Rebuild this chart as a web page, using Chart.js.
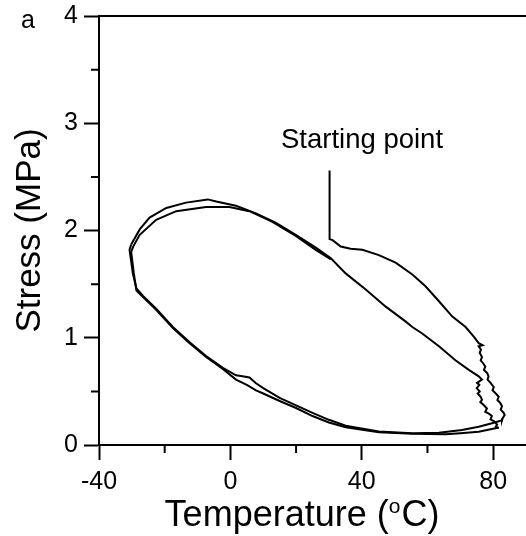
<!DOCTYPE html>
<html>
<head>
<meta charset="utf-8">
<script src="https://cdn.jsdelivr.net/npm/chart.js@4.4.1/dist/chart.umd.min.js"></script>
<style>
  html, body { margin: 0; padding: 0; background: #fff; }
  #wrap { width: 526px; height: 536px; }
</style>
</head>
<body>
<div id="wrap"><canvas id="chart" width="526" height="536"></canvas></div>
<script>
// axis ticks
const xTicks = [-40, -20, 0, 20, 40, 60, 80];
const xLabels = [-40, 0, 40, 80];
const yTicks = [0, 0.5, 1, 1.5, 2, 2.5, 3, 3.5, 4];
const yLabels = [0, 1, 2, 3, 4];

// starting point -> first heating
const startTemp = [30.2, 30.2, 31.1, 33.6, 36.6, 40.2, 45.2, 50.3, 55.4, 59.4, 63.5, 67.5, 71.6, 74.1, 75.6, 76.8, 75.6, 76.3, 75.9, 76.6, 76.2, 77.0, 77.6, 77.2, 78.2, 78.6, 78.3, 79.2, 80.2, 79.8, 80.8, 81.7, 81.3, 82.2, 82.7, 82.3, 83.2, 83.5, 82.9, 82.7];
const startStress = [2.56, 1.92, 1.91, 1.85, 1.83, 1.82, 1.77, 1.70, 1.59, 1.48, 1.34, 1.20, 1.10, 1.01, 0.95, 0.93, 0.92, 0.89, 0.86, 0.82, 0.79, 0.76, 0.73, 0.70, 0.67, 0.64, 0.61, 0.58, 0.54, 0.51, 0.48, 0.45, 0.42, 0.39, 0.36, 0.33, 0.30, 0.28, 0.25, 0.23];

// cycle 1
const cool1Temp = [82.7, 80.5, 75.6, 70.5, 63.5, 55.4, 45.2, 35.1, 30, 25, 20, 15, 10, 7.8, 5.8, 3.7, 1.7, -2.3, -7.4, -12.5, -17.5, -22.6, -26.6, -28.6, -29.7, -30.7, -30.2];
const cool1Stress = [0.23, 0.21, 0.17, 0.14, 0.115, 0.11, 0.125, 0.18, 0.235, 0.30, 0.37, 0.44, 0.53, 0.575, 0.63, 0.64, 0.65, 0.72, 0.83, 0.96, 1.10, 1.27, 1.39, 1.46, 1.60, 1.82, 1.87];
const heat1Temp = [-30.2, -27.6, -24.6, -19.5, -13.5, -6.9, -4.3, 1.7, 7.8, 13.9, 19.9, 26, 30.6, 35.1, 41.2, 47.3, 53.4, 55.4, 58.4, 63.5, 68.5, 72.6, 75.6, 76.6, 75.1, 75.8, 75.0, 75.9, 75.3, 76.2, 76.6, 76.1, 77.2, 78.1, 77.6, 78.8, 79.6, 79.2, 80.3, 81.2, 80.8, 81.7];
const heat1Stress = [1.87, 2.01, 2.12, 2.21, 2.26, 2.29, 2.27, 2.23, 2.16, 2.07, 1.96, 1.84, 1.74, 1.60, 1.45, 1.29, 1.15, 1.10, 1.04, 0.92, 0.79, 0.70, 0.64, 0.61, 0.58, 0.56, 0.53, 0.50, 0.48, 0.45, 0.42, 0.40, 0.37, 0.34, 0.31, 0.29, 0.27, 0.24, 0.22, 0.19, 0.17, 0.16];

// cycle 2
const cool2Temp = [81.7, 80.7, 75.6, 70, 65.5, 55.4, 45.2, 35.1, 30, 25, 20, 15, 10, 7.8, 5, 1.7, -2.3, -7.4, -12.5, -17.5, -22.6, -26.6, -28.6, -29.4, -30.2];
const cool2Stress = [0.16, 0.156, 0.124, 0.11, 0.10, 0.105, 0.12, 0.165, 0.21, 0.27, 0.345, 0.41, 0.48, 0.51, 0.56, 0.61, 0.71, 0.82, 0.95, 1.09, 1.26, 1.38, 1.44, 1.60, 1.80];
const heat2Temp = [-30.2, -29.6, -27.6, -22.6, -16.5, -7.4, -0.3, 5.8, 12.8, 19.9, 26, 30.6];
const heat2Stress = [1.80, 1.85, 1.96, 2.10, 2.18, 2.22, 2.22, 2.18, 2.08, 1.95, 1.82, 1.73];

const FONT = "'Liberation Sans', Arial, Helvetica, sans-serif";

function pts(t, s) {
    return t.map((v, i) => ({ x: v, y: s[i] }));
}

function series(t, s) {
    return {
        data: pts(t, s),
        borderColor: '#000',
        borderWidth: 2,
        pointRadius: 0,
        tension: 0,
        fill: false
    };
}

// minor ticks, top frame line and the free text
const extras = {
    id: 'extras',
    afterDraw(chart) {
        const { ctx, chartArea: a, scales: { x, y } } = chart;
        ctx.save();
        ctx.strokeStyle = '#000';
        ctx.lineWidth = 2;
        ctx.beginPath();
        ctx.moveTo(a.left - 1, a.top);
        ctx.lineTo(a.right + 2, a.top);
        xTicks.filter(v => !xLabels.includes(v)).forEach(v => {
            const px = x.getPixelForValue(v);
            ctx.moveTo(px, a.bottom);
            ctx.lineTo(px, a.bottom + 8);
        });
        yTicks.filter(v => !yLabels.includes(v)).forEach(v => {
            const py = y.getPixelForValue(v);
            ctx.moveTo(a.left, py);
            ctx.lineTo(a.left - 8, py);
        });
        ctx.stroke();

        ctx.fillStyle = '#000';
        ctx.textBaseline = 'alphabetic';
        ctx.textAlign = 'left';
        ctx.font = '25px ' + FONT;
        ctx.fillText('a', 21, 28);

        ctx.font = '27.5px ' + FONT;
        ctx.fillText('Starting point', 281, 148);

        // x title with superscript o
        const big = '36px ' + FONT, small = '21px ' + FONT;
        ctx.font = big;
        const w1 = ctx.measureText('Temperature (').width;
        const w3 = ctx.measureText('C)').width;
        ctx.font = small;
        const w2 = ctx.measureText('o').width + 1;
        let tx = 302 - (w1 + w2 + w3) / 2;
        const base = 526;
        ctx.font = big;
        ctx.fillText('Temperature (', tx, base);
        ctx.font = small;
        ctx.fillText('o', tx + w1, base - 13);
        ctx.font = big;
        ctx.fillText('C)', tx + w1 + w2, base);
        ctx.restore();
    }
};

new Chart(document.getElementById('chart'), {
    type: 'line',
    data: {
        datasets: [
            series(startTemp, startStress),
            series(cool1Temp, cool1Stress),
            series(heat1Temp, heat1Stress),
            series(cool2Temp, cool2Stress),
            series(heat2Temp, heat2Stress)
        ]
    },
    options: {
        responsive: false,
        animation: false,
        devicePixelRatio: 1,
        layout: { padding: { top: 16, left: 0, right: -1, bottom: 0 } },
        plugins: { legend: { display: false }, tooltip: { enabled: false } },
        scales: {
            x: {
                type: 'linear',
                min: -40,
                max: 90,
                afterBuildTicks: s => { s.ticks = xTicks.map(v => ({ value: v })); },
                afterFit: s => { s.height = 91; s.paddingLeft = 0; s.paddingRight = 0; },
                ticks: {
                    color: '#000',
                    font: { family: FONT, size: 25 },
                    padding: 7,
                    maxRotation: 0,
                    callback: v => xLabels.includes(v) ? String(v) : ''
                },
                grid: {
                    drawOnChartArea: false,
                    drawTicks: true,
                    tickLength: 15,
                    tickWidth: 2,
                    tickColor: c => xLabels.includes(c.tick && c.tick.value) ? '#000' : 'rgba(0,0,0,0)'
                },
                border: { display: true, color: '#000', width: 2 }
            },
            y: {
                type: 'linear',
                min: 0,
                max: 4,
                afterBuildTicks: s => { s.ticks = yTicks.map(v => ({ value: v })); },
                afterFit: s => { s.width = 99; s.paddingTop = 0; s.paddingBottom = 0; },
                ticks: {
                    color: '#000',
                    font: { family: FONT, size: 25 },
                    padding: 6,
                    callback: v => yLabels.includes(v) ? String(v) : ''
                },
                grid: {
                    drawOnChartArea: false,
                    drawTicks: true,
                    tickLength: 15,
                    tickWidth: 2,
                    tickColor: c => yLabels.includes(c.tick && c.tick.value) ? '#000' : 'rgba(0,0,0,0)'
                },
                border: { display: true, color: '#000', width: 2 },
                title: {
                    display: true,
                    text: 'Stress (MPa)',
                    color: '#000',
                    font: { family: FONT, size: 35 },
                    padding: { top: 9, bottom: 0 }
                }
            }
        }
    },
    plugins: [extras]
});
</script>
</body>
</html>
